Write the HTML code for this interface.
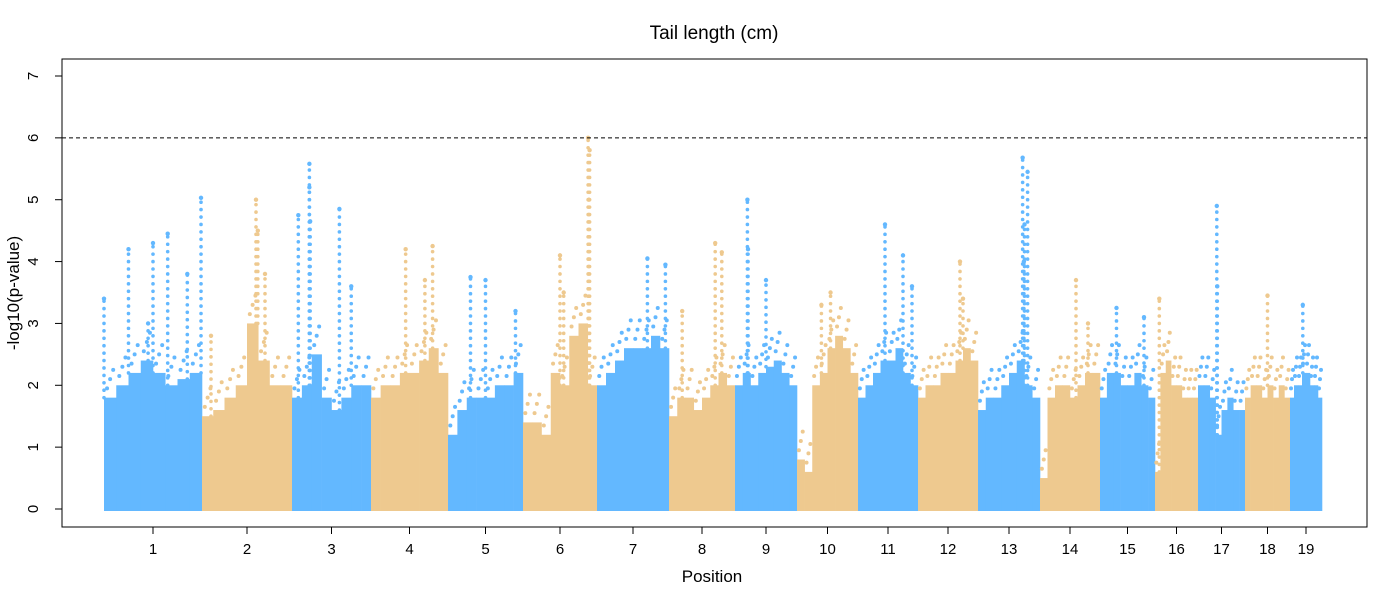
<!DOCTYPE html>
<html><head><meta charset="utf-8"><style>
html,body{margin:0;padding:0;background:#fff;}
svg{display:block;font-family:"Liberation Sans",Arial,sans-serif;}
</style></head><body>
<svg id="chart" width="1400" height="600" viewBox="0 0 1400 600">
<rect x="0" y="0" width="1400" height="600" fill="#fff"/>
<text x="714" y="39" font-size="19" text-anchor="middle">Tail length (cm)</text>
<text x="712" y="582" font-size="17" text-anchor="middle">Position</text>
<text transform="translate(19,293) rotate(-90)" font-size="17" text-anchor="middle">-log10(p-value)</text>
<g id="marks"></g>
<g id="axes"></g>
</svg>
<script>
const chromLabels = ["1","2","3","4","5","6","7","8","9","10","11","12","13","14","15","16","17","18","19"];
const chromLengths = [98,90,79,77,75,74,72,66,62,61,60,60,62,60,55,43,47,45,32];
const denseBins = [
 [1.8,2.0,2.2,2.4,2.2,2.0,2.1,2.2],
 [1.5,1.6,1.8,2.0,3.0,2.4,2.0,2.0],
 [1.8,2.0,2.5,1.8,1.6,1.8,2.0,2.0],
 [1.8,2.0,2.0,2.2,2.2,2.4,2.6,2.2],
 [1.2,1.6,1.8,1.8,1.8,2.0,2.0,2.2],
 [1.4,1.4,1.2,2.2,2.0,2.8,3.0,2.0],
 [2.0,2.2,2.4,2.6,2.6,2.6,2.8,2.6],
 [1.5,1.8,1.8,1.6,1.8,2.0,2.2,2.0],
 [2.0,2.2,2.0,2.2,2.3,2.4,2.2,2.0],
 [0.8,0.6,2.0,2.2,2.6,2.8,2.6,2.2],
 [1.8,2.0,2.2,2.4,2.4,2.6,2.2,2.0],
 [1.8,2.0,2.0,2.2,2.2,2.4,2.6,2.4],
 [1.6,1.8,1.8,2.0,2.2,2.4,2.0,1.8],
 [0.5,1.8,2.0,2.0,1.8,2.0,2.2,2.2],
 [1.8,2.2,2.2,2.0,2.0,2.2,2.0,1.8],
 [0.6,2.2,2.4,2.0,2.0,1.8,1.8,1.8],
 [2.0,2.0,1.8,1.2,1.6,1.8,1.6,1.6],
 [1.8,2.0,2.0,1.8,2.0,1.8,2.0,1.8],
 [1.8,2.0,2.0,2.2,2.2,2.0,2.0,1.8]
];
const peakChrom = [1,1,1,1,1,1,1, 2,2,2,2, 3,3,3,3,3,3, 4,4,4, 5,5,5, 6,6,6,6,6, 7,7, 8,8,8, 9,9,9, 10,10, 11,11,11, 12,12, 13,13,13,13, 14,14, 15,15, 16, 17,17, 18, 19];
const peakFrac = [0.0,0.25,0.45,0.5,0.65,0.85,0.99, 0.1,0.6,0.62,0.7, 0.08,0.22,0.22,0.23,0.6,0.75, 0.45,0.8,0.7, 0.3,0.5,0.9, 0.5,0.88,0.9,0.89,0.55, 0.7,0.95, 0.7,0.8,0.2, 0.2,0.21,0.5, 0.55,0.4, 0.45,0.75,0.9, 0.7,0.75, 0.72,0.8,0.75,0.74, 0.6,0.8, 0.3,0.8, 0.1, 0.4,0.41, 0.5, 0.4];
const peakValue = [3.4,4.2,3.0,4.3,4.45,3.8,5.03, 2.8,5.0,4.5,3.8, 4.75,5.58,5.2,4.65,4.85,3.6, 4.2,4.25,3.7, 3.75,3.7,3.2, 4.1,6.0,5.8,5.0,3.5, 4.05,3.95, 4.3,4.15,3.2, 5.0,4.2,3.7, 3.5,3.3, 4.6,4.1,3.6, 4.0,3.4, 5.68,5.45,4.6,4.0, 3.7,3.0, 3.25,3.1, 3.4, 4.9,3.6, 3.45, 3.3];
const yTicks = [0,1,2,3,4,5,6,7];
const threshold = 6;

const NS="http://www.w3.org/2000/svg";
const px0=104, px1=1322, plotL=62, plotR=1367, plotT=59, plotB=527;
const total = chromLengths.reduce((a,b)=>a+b,0);
const xs = v => px0 + (v/total)*(px1-px0);
const ys = v => 509 - v*(509-76)/7;
const colors = ["#63B8FF","#EEC98F"];
const starts=[]; let acc=0; chromLengths.forEach(l=>{starts.push(acc);acc+=l;});
const marks=document.getElementById('marks'), axes=document.getElementById('axes');
function mk(tag,attrs,parent){const e=document.createElementNS(NS,tag);for(const k in attrs)e.setAttribute(k,attrs[k]);parent.appendChild(e);return e;}

denseBins.forEach((bins,ci)=>{
  const g=mk('g',{},marks);
  
  
  const col=colors[ci%2], n=bins.length, w=chromLengths[ci]/n;
  bins.forEach((h,bi)=>{
    const x0=xs(starts[ci]+bi*w), x1=xs(starts[ci]+(bi+1)*w);
    const r=mk('rect',{x:x0,y:ys(h),width:x1-x0+0.3,height:ys(0)-ys(h)+2,fill:col},g);
    
    
    for(let k=1;k<4;k++){
      const c=mk('circle',{cx:x0+(x1-x0)*k/4,cy:ys(h+0.15*k),r:2,fill:col},g);
      
      
    }
  });
});
peakChrom.forEach((c,i)=>{
  const ci=c-1, col=colors[ci%2];
  const x=xs(starts[ci]+peakFrac[i]*chromLengths[ci]);
  const base=denseBins[ci][Math.min(7,Math.floor(peakFrac[i]*8))];
  for(let v=base;v<peakValue[i];v+=0.12){
    const d=mk('circle',{cx:x,cy:ys(v),r:1.8,fill:col},marks);
    
    
  }
  const p=mk('circle',{cx:x,cy:ys(peakValue[i]),r:2.2,fill:col},marks);
  
  
});
const th=mk('line',{x1:plotL,x2:plotR,y1:ys(threshold),y2:ys(threshold),stroke:'#000','stroke-dasharray':'4,3','stroke-width':1},axes);


const box=mk('rect',{x:plotL,y:plotT,width:plotR-plotL,height:plotB-plotT,fill:'none',stroke:'#000'},axes);


yTicks.forEach(t=>{
  const y=ys(t);
  const l=mk('line',{x1:plotL-7,x2:plotL,y1:y,y2:y,stroke:'#000'},axes);
  
  
  const tx=mk('text',{transform:`translate(38,${y}) rotate(-90)`,'font-size':15,'text-anchor':'middle'},axes);
  tx.textContent=t;
  
  
});
chromLabels.forEach((lab,ci)=>{
  const x=xs(starts[ci]+chromLengths[ci]/2);
  const l=mk('line',{x1:x,x2:x,y1:plotB,y2:plotB+7,stroke:'#000'},axes);
  
  
  const tx=mk('text',{x:x,y:554,'font-size':15,'text-anchor':'middle'},axes);
  tx.textContent=lab;
  
  
});
</script>
</body></html>
